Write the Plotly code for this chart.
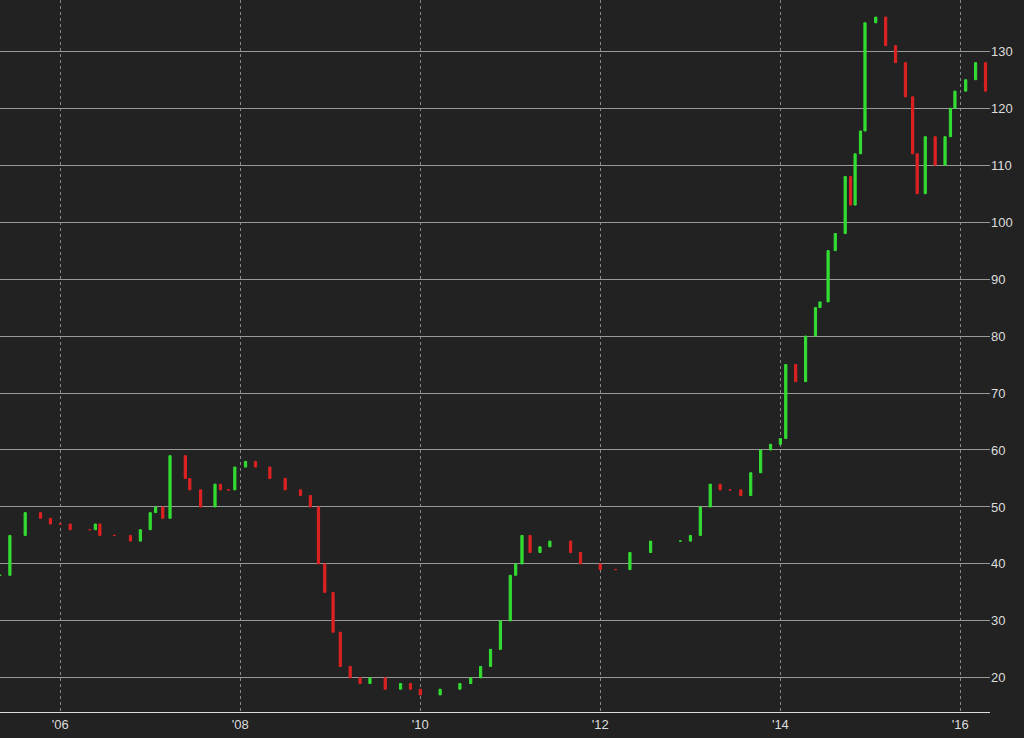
import plotly.graph_objects as go
import datetime as dt

years = [2005.33,2005.44,2005.61,2005.78,2005.89,2006.0,2006.11,2006.33,2006.39,2006.44,2006.6,2006.78,2006.89,2007.0,2007.06,2007.14,2007.22,2007.39,2007.44,2007.56,2007.72,2007.78,2007.87,2007.94,2008.06,2008.17,2008.33,2008.5,2008.67,2008.78,2008.87,2008.94,2009.03,2009.11,2009.22,2009.33,2009.44,2009.61,2009.78,2009.89,2010.0,2010.22,2010.44,2010.56,2010.67,2010.78,2010.89,2011.0,2011.06,2011.13,2011.22,2011.33,2011.44,2011.67,2011.78,2012.0,2012.17,2012.33,2012.56,2012.89,2013.0,2013.11,2013.22,2013.33,2013.44,2013.56,2013.67,2013.78,2013.89,2014.0,2014.06,2014.17,2014.28,2014.39,2014.44,2014.53,2014.61,2014.72,2014.78,2014.83,2014.89,2014.94,2015.06,2015.17,2015.28,2015.39,2015.47,2015.52,2015.61,2015.72,2015.83,2015.89,2015.94,2016.06,2016.17,2016.28]
closes = [38,45,49,48,47,47,46,46,47,45,45,44,46,49,50,48,59,55,53,50,54,53,53,57,58,57,55,53,52,50,40,35,28,22,20,19,20,18,19,18,17,18,19,20,22,25,30,38,40,45,42,43,44,42,40,39,39,42,44,44,45,50,54,53,53,52,56,60,61,62,75,72,80,85,86,95,98,108,103,112,116,135,136,131,128,122,112,105,115,110,115,120,123,125,128,123]
n = min(len(years), len(closes))
years, closes = years[:n], closes[:n]

def to_date(y):
    yr = int(y)
    return dt.datetime(yr,1,1) + dt.timedelta(days=(y-yr)*365.25)

dates = [to_date(y) for y in years]
opens = [closes[0]] + closes[:-1]
highs = [max(o,c) for o,c in zip(opens,closes)]
lows = [min(o,c) for o,c in zip(opens,closes)]

tick_dates = ["2006-01-01","2008-01-01","2010-01-01","2012-01-01","2014-01-01","2016-01-01"]
tick_text = ["'06","'08","'10","'12","'14","'16"]

fig = go.Figure(go.Candlestick(x=dates, open=opens, high=highs, low=lows, close=closes,
    increasing=dict(line=dict(color="#33dd33", width=1), fillcolor="#33dd33"),
    decreasing=dict(line=dict(color="#dd2222", width=1), fillcolor="#dd2222"),
    whiskerwidth=0))
fig.update_layout(
    width=1024, height=738, paper_bgcolor="#222222", plot_bgcolor="#222222",
    margin=dict(l=0, r=34, t=0, b=26), showlegend=False,
    font=dict(family="Liberation Sans, Arial", color="#dddddd", size=13),
    xaxis=dict(range=[to_date(2005.33), to_date(2016.33)], rangeslider=dict(visible=False),
               tickvals=tick_dates, ticktext=tick_text, showgrid=True, gridcolor="#888888",
               griddash="dot", gridwidth=1, zeroline=False, showline=True, linecolor="#dddddd", ticks=""),
    yaxis=dict(range=[14, 139], side="right", tickvals=list(range(20,140,10)), showgrid=True,
               gridcolor="#999999", gridwidth=1, zeroline=False, ticks=""),
)
fig.write_html("out.html", config={"displayModeBar": False})
with open("out.html") as f:
    html = f.read()
html = html.replace("<body>", '<body style="margin:0;background:#222222">', 1)
with open("out.html", "w") as f:
    f.write(html)
